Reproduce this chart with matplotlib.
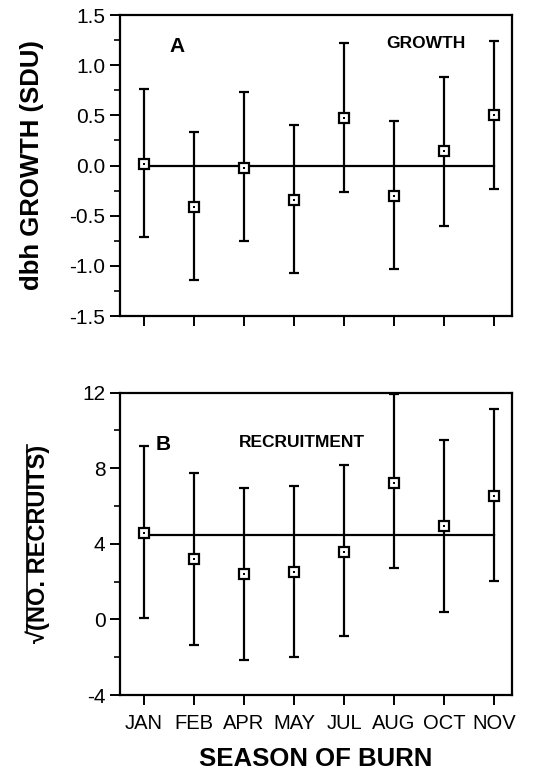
import matplotlib.pyplot as plt
from matplotlib.lines import Line2D
from matplotlib.ticker import MultipleLocator

plt.rcParams['font.family'] = ['Liberation Sans', 'DejaVu Sans']
plt.rcParams['axes.unicode_minus'] = False

months = ['JAN', 'FEB', 'APR', 'MAY', 'JUL', 'AUG', 'OCT', 'NOV']

# dbh growth, standard deviation units
growth_mean = [0.02, -0.41, -0.02, -0.34, 0.47, -0.30, 0.14, 0.50]
growth_hi = [0.76, 0.33, 0.73, 0.40, 1.22, 0.44, 0.88, 1.24]
growth_lo = [-0.71, -1.14, -0.75, -1.07, -0.26, -1.03, -0.60, -0.23]
growth_ref = 0.0

# square-root transformed recruit counts
recruit_mean = [4.59, 3.18, 2.41, 2.49, 3.59, 7.24, 4.93, 6.53]
recruit_hi = [9.18, 7.77, 6.96, 7.04, 8.17, 11.93, 9.50, 11.12]
recruit_lo = [0.10, -1.33, -2.13, -2.00, -0.89, 2.72, 0.41, 2.02]
recruit_ref = 4.47


def panel(ax, mean, hi, lo, ref, ylim, major, minor):
    x = list(range(len(months)))
    yerr = [[m - l for m, l in zip(mean, lo)], [h - m for m, h in zip(mean, hi)]]
    ax.plot([x[0], x[-1]], [ref, ref], color='black', lw=1.6, zorder=1)
    ax.errorbar(x, mean, yerr=yerr, fmt='none', ecolor='black', elinewidth=1.6,
                capsize=3.5, capthick=1.6, zorder=2)
    ax.plot(x, mean, 's', ms=7, mfc='white', mec='black', mew=1.6, zorder=3)
    ax.plot(x, mean, 's', ms=1.5, mfc='black', mec='black', mew=0, zorder=4)
    ax.set_xlim(-0.48, 7.36)
    ax.set_ylim(*ylim)
    ax.set_xticks(x)
    ax.yaxis.set_major_locator(MultipleLocator(major))
    ax.yaxis.set_minor_locator(MultipleLocator(minor))
    ax.tick_params(axis='both', which='major', direction='out', length=7,
                   width=1.4, labelsize=15)
    ax.tick_params(axis='x', which='major', pad=7)
    ax.tick_params(axis='y', which='minor', direction='out', length=4, width=1.2)
    ax.tick_params(axis='x', which='minor', bottom=False)
    for s in ax.spines.values():
        s.set_linewidth(1.6)


fig = plt.figure(figsize=(5.41, 7.70), dpi=100)
ax1 = fig.add_axes([0.2218, 0.5896, 0.7246, 0.3909])
ax2 = fig.add_axes([0.2218, 0.0974, 0.7246, 0.3926])

panel(ax1, growth_mean, growth_hi, growth_lo, growth_ref, (-1.5, 1.5), 0.5, 0.25)
ax1.set_xticklabels([])
ax1.yaxis.set_major_formatter(plt.FuncFormatter(lambda v, p: f'{v:.1f}'))
ax1.set_ylabel('dbh GROWTH (SDU)', fontsize=18.5, fontweight='bold', labelpad=18)
ax1.text(0.145, 0.895, 'A', transform=ax1.transAxes, fontsize=15,
         fontweight='bold', ha='center', va='center')
ax1.text(0.78, 0.905, 'GROWTH', transform=ax1.transAxes, fontsize=12.5,
         fontweight='bold', ha='center', va='center')

panel(ax2, recruit_mean, recruit_hi, recruit_lo, recruit_ref, (-4, 12), 4, 2)
ax2.set_xticklabels(months, fontsize=14.5)
ylab = ax2.set_ylabel('\u221a(NO. RECRUITS)', fontsize=17, fontweight='bold',
                      labelpad=23)
ax2.set_xlabel('SEASON OF BURN', fontsize=18.5, fontweight='bold', labelpad=10)
ax2.text(0.11, 0.83, 'B', transform=ax2.transAxes, fontsize=15,
         fontweight='bold', ha='center', va='center')
ax2.text(0.465, 0.835, 'RECRUITMENT', transform=ax2.transAxes, fontsize=12.5,
         fontweight='bold', ha='center', va='center')

# overline of the radical, running along the top edge of the rotated label
fig.canvas.draw()
r = fig.canvas.get_renderer()
bb = ylab.get_window_extent(r)
tmp = fig.text(0, 0, '\u221a', fontsize=17, fontweight='bold')
rw = tmp.get_window_extent(r).width
tmp.remove()
W, H = fig.bbox.width, fig.bbox.height
x_bar = bb.x0 + 1.5
fig.add_artist(Line2D([x_bar / W, x_bar / W],
                      [(bb.y0 + rw * 0.85) / H, bb.y1 / H],
                      transform=fig.transFigure, color='black', lw=1.2))

fig.savefig('out.png', dpi=100)
